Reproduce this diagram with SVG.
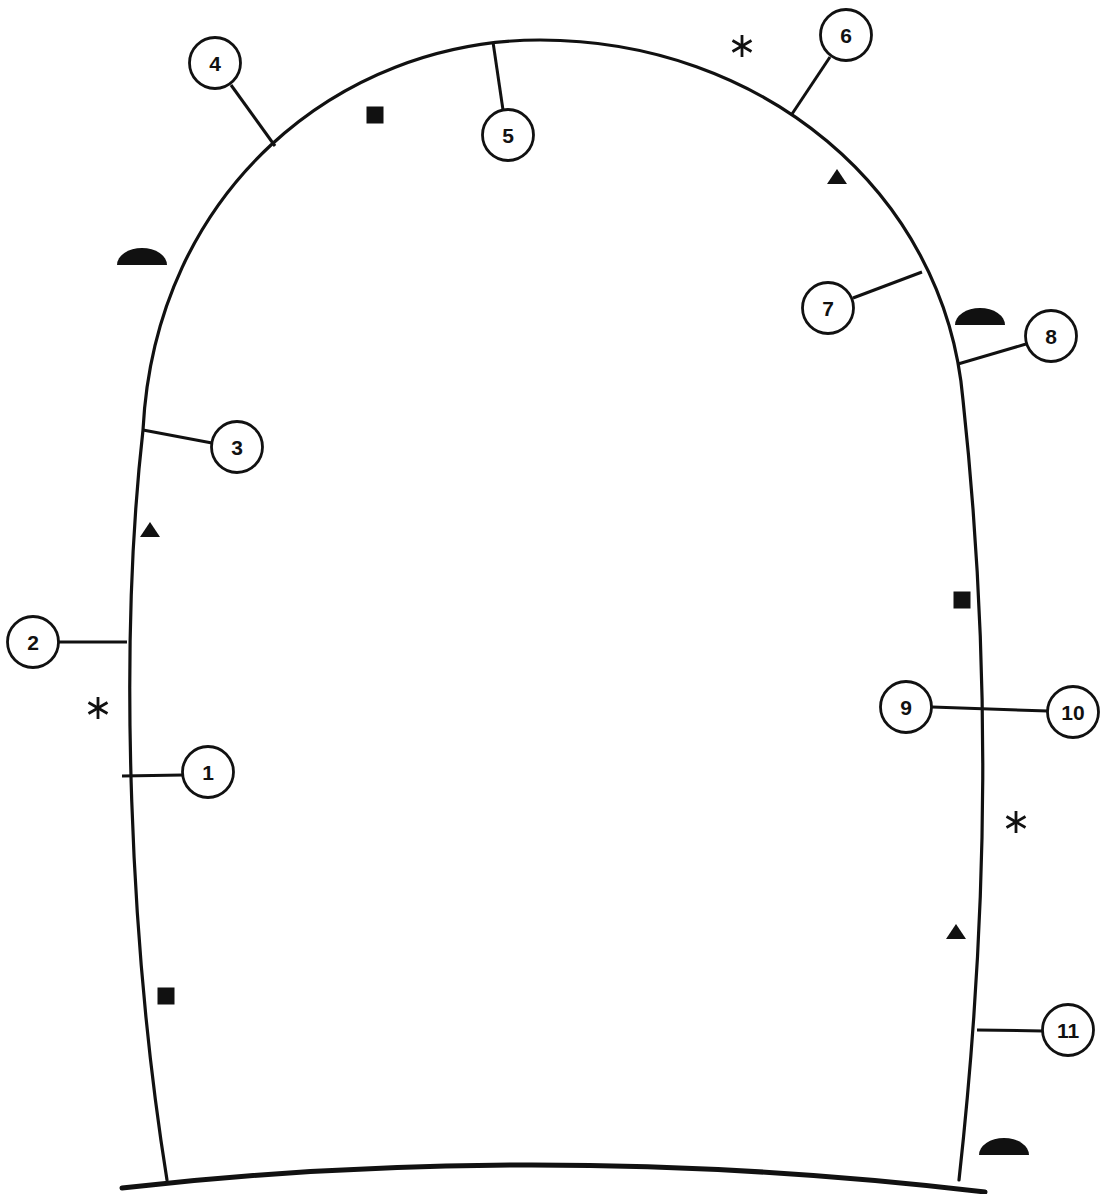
<svg xmlns="http://www.w3.org/2000/svg" width="1102" height="1194" viewBox="0 0 1102 1194">
<style>
.outline{fill:none;stroke:#111;stroke-width:3.2;stroke-linecap:round;stroke-linejoin:round}
.base{fill:none;stroke:#111;stroke-width:5;stroke-linecap:round}
.conn line{stroke:#111;stroke-width:3;stroke-linecap:butt}
.node circle{fill:#fff;stroke:#111;stroke-width:2.8}
.node text{font-family:"Liberation Sans",Arial,sans-serif;font-size:21px;font-weight:bold;fill:#111;text-anchor:middle;dominant-baseline:central}
.mark{fill:#111}
.ast line{stroke:#111;stroke-width:2.8;stroke-linecap:butt}
</style>
<defs>
<g id="asterisk" class="ast">
<line x1="0" y1="-11" x2="0" y2="11"/>
<line x1="-9.5" y1="-5.5" x2="9.5" y2="5.5"/>
<line x1="-9.5" y1="5.5" x2="9.5" y2="-5.5"/>
</g>
<rect id="sq" x="-8.5" y="-8.5" width="17" height="17" class="mark"/>
<path id="tri" d="M0,-8 L10,7 L-10,7 Z" class="mark"/>
<path id="half" d="M-25,0 A25,17 0 0 1 25,0 Z" class="mark"/>
</defs>
<rect width="1102" height="1194" fill="#fff"/>
<g id="outline">
<path class="outline" d="M167,1180 C130,950 118,650 143,430 C155,190 340,40 540,40 C760,40 945,190 963,400 C990,650 990,900 959,1180"/>
<path class="base" d="M122,1188 Q545,1140 985,1192"/>
</g>
<g id="markers">
<use href="#asterisk" x="742" y="46"/>
<use href="#asterisk" x="98" y="708"/>
<use href="#asterisk" x="1016" y="822"/>
<use href="#sq" x="375" y="115"/>
<use href="#sq" x="962" y="600"/>
<use href="#sq" x="166" y="996"/>
<use href="#tri" x="837" y="177"/>
<use href="#tri" x="150" y="530"/>
<use href="#tri" x="956" y="932"/>
<use href="#half" x="142" y="265"/>
<use href="#half" x="980" y="325"/>
<use href="#half" x="1004" y="1155"/>
</g>
<g id="connectors" class="conn">
<line x1="122" y1="776" x2="183" y2="775"/>
<line x1="127" y1="642" x2="59" y2="642"/>
<line x1="143" y1="430" x2="212" y2="443"/>
<line x1="275" y1="146" x2="231" y2="85"/>
<line x1="493" y1="42" x2="503" y2="110"/>
<line x1="792" y1="114" x2="830" y2="57"/>
<line x1="922" y1="272" x2="853" y2="298"/>
<line x1="958" y1="364" x2="1026" y2="344"/>
<line x1="932" y1="707" x2="1048" y2="711"/>
<line x1="977" y1="1030" x2="1043" y2="1031"/>
</g>
<g id="n1" class="node"><circle cx="208" cy="772" r="25.5"/><text x="208" y="772">1</text></g>
<g id="n2" class="node"><circle cx="33" cy="642" r="25.5"/><text x="33" y="642">2</text></g>
<g id="n3" class="node"><circle cx="237" cy="447" r="25.5"/><text x="237" y="447">3</text></g>
<g id="n4" class="node"><circle cx="215" cy="63" r="25.5"/><text x="215" y="63">4</text></g>
<g id="n5" class="node"><circle cx="508" cy="135" r="25.5"/><text x="508" y="135">5</text></g>
<g id="n6" class="node"><circle cx="846" cy="35" r="25.5"/><text x="846" y="35">6</text></g>
<g id="n7" class="node"><circle cx="828" cy="308" r="25.5"/><text x="828" y="308">7</text></g>
<g id="n8" class="node"><circle cx="1051" cy="336" r="25.5"/><text x="1051" y="336">8</text></g>
<g id="n9" class="node"><circle cx="906" cy="707" r="25.5"/><text x="906" y="707">9</text></g>
<g id="n10" class="node"><circle cx="1073" cy="712" r="25.5"/><text x="1073" y="712">10</text></g>
<g id="n11" class="node"><circle cx="1068" cy="1030" r="25.5"/><text x="1068" y="1030">11</text></g>
</svg>
